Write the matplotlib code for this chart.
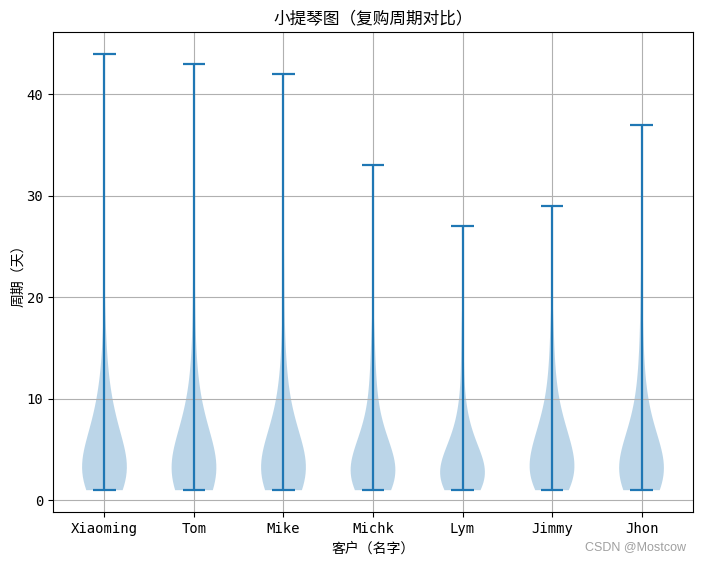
import matplotlib
matplotlib.use("Agg")
import matplotlib.pyplot as plt

plt.rcParams['font.family'] = ['DejaVu Sans Mono', 'Noto Sans CJK SC']

customers = ["Xiaoming", "Tom", "Mike", "Michk", "Lym", "Jimmy", "Jhon"]

xiaoming = [1, 1, 1, 1, 1, 1, 1, 1, 1, 1, 2, 2, 2, 2, 2, 2, 2, 2, 2, 3, 3, 3, 3,
            3, 3, 3, 3, 4, 4, 4, 4, 4, 4, 4, 5, 5, 5, 5, 5, 6, 6, 6, 6, 7, 7, 7,
            8, 8, 8, 9, 9, 10, 10, 11, 12, 13, 15, 17, 44]
tom = [1, 1, 1, 1, 1, 1, 1, 1, 1, 1, 2, 2, 2, 2, 2, 2, 2, 2, 2, 3, 3, 3, 3, 3,
       3, 3, 3, 4, 4, 4, 4, 4, 4, 5, 5, 5, 5, 5, 6, 6, 6, 7, 7, 7, 8, 8, 9, 9,
       10, 11, 12, 14, 16, 20, 25, 43]
mike = [1, 1, 1, 1, 1, 1, 1, 1, 1, 1, 2, 2, 2, 2, 2, 2, 2, 2, 2, 3, 3, 3, 3, 3,
        3, 3, 3, 4, 4, 4, 4, 4, 4, 4, 5, 5, 5, 5, 5, 6, 6, 6, 6, 7, 7, 7, 8, 8,
        9, 9, 10, 11, 12, 13, 15, 18, 23, 42]
michk = [1, 1, 1, 1, 1, 1, 1, 1, 1, 1, 2, 2, 2, 2, 2, 2, 2, 2, 2, 3, 3, 3, 3, 3,
         3, 3, 3, 4, 4, 4, 4, 4, 4, 4, 5, 5, 5, 5, 5, 6, 6, 6, 7, 7, 7, 8, 8, 9,
         10, 11, 12, 13, 15, 17, 33]
lym = [1, 1, 1, 1, 1, 1, 1, 1, 1, 1, 1, 2, 2, 2, 2, 2, 2, 2, 2, 2, 3, 3, 3, 3,
       3, 3, 3, 3, 3, 4, 4, 4, 4, 4, 4, 4, 5, 5, 5, 5, 5, 6, 6, 6, 7, 7, 8, 8,
       9, 10, 12, 14, 17, 27]
jimmy = [1, 1, 1, 1, 1, 1, 1, 1, 1, 2, 2, 2, 2, 2, 2, 2, 2, 3, 3, 3, 3, 3, 3, 3,
         4, 4, 4, 4, 4, 4, 4, 5, 5, 5, 5, 5, 5, 6, 6, 6, 6, 6, 7, 7, 7, 7, 8, 8,
         8, 9, 9, 10, 10, 11, 12, 13, 14, 16, 18, 29]
jhon = [1, 1, 1, 1, 1, 1, 1, 1, 1, 1, 2, 2, 2, 2, 2, 2, 2, 2, 2, 3, 3, 3, 3, 3,
        3, 3, 4, 4, 4, 4, 4, 4, 4, 5, 5, 5, 5, 5, 6, 6, 6, 6, 7, 7, 7, 8, 8, 9,
        9, 10, 11, 12, 13, 15, 17, 21, 37]

data = [xiaoming, tom, mike, michk, lym, jimmy, jhon]

fig = plt.figure(figsize=(7.02, 5.62), dpi=100)
ax = fig.add_axes([53 / 702, 50 / 562, 640 / 702, 480 / 562])
parts = ax.violinplot(data, positions=range(1, len(customers) + 1))
for key in ("cbars", "cmins", "cmaxes"):
    parts[key].set_linewidth(1.6)
ax.set_xticks(range(1, len(customers) + 1))
ax.set_xticklabels(customers)
ax.set_title("小提琴图（复购周期对比）")
ax.set_xlabel("客户（名字）")
ax.set_ylabel("周期（天）")
ax.yaxis.set_label_coords(-0.044, 0.5)
ax.grid(True)
fig.text(0.977, 0.016, "CSDN @Mostcow", ha="right", va="bottom", color="#a0a0a0",
         fontsize=9, family="Liberation Sans")
fig.savefig("out.png", dpi=100)
